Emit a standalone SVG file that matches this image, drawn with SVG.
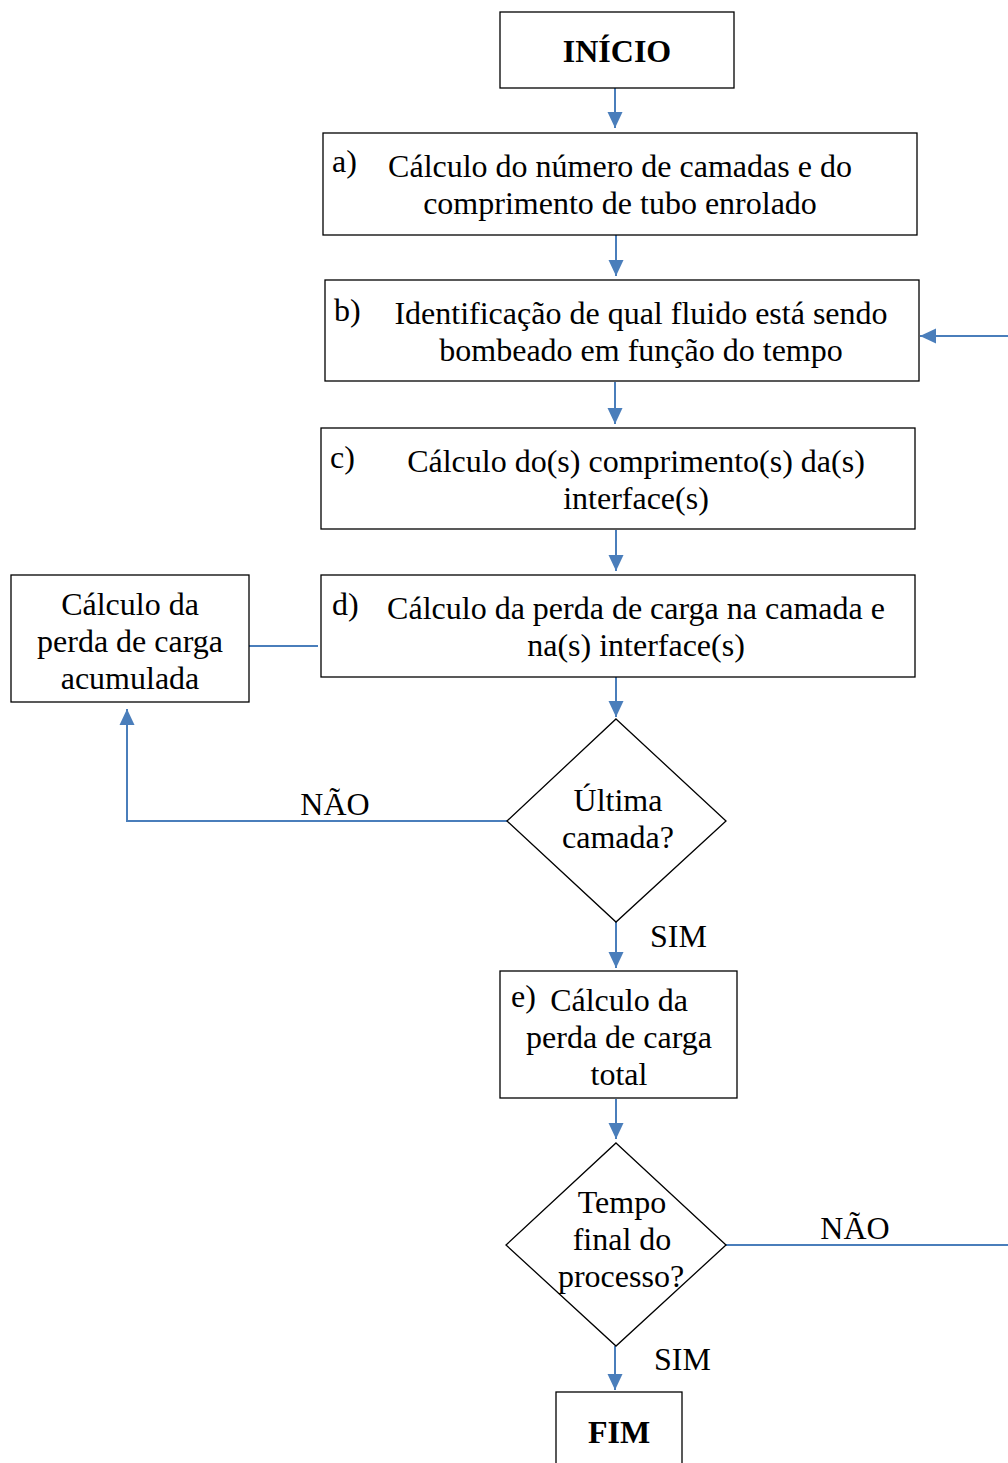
<svg xmlns="http://www.w3.org/2000/svg" width="1008" height="1463" viewBox="0 0 1008 1463">
<style>
.box{fill:#fff;stroke:#000;stroke-width:1.3}
.t{font-family:"Liberation Serif","Times New Roman",serif;font-size:32px;fill:#000}
.c{text-anchor:middle}
.b{font-weight:bold}
.con{fill:none;stroke:#4a7ebb;stroke-width:2}
</style>
<defs>
<marker id="ah" markerUnits="userSpaceOnUse" markerWidth="18" markerHeight="18" viewBox="0 0 18 18" refX="16" refY="9" orient="auto">
<path d="M0,1.5 L16,9 L0,16.5 Z" fill="#4a7ebb"/>
</marker>
</defs>
<rect width="1008" height="1463" fill="#fff"/>
<g id="connectors">
<line class="con" x1="615" y1="88" x2="615" y2="128" marker-end="url(#ah)"/>
<line class="con" x1="616" y1="235" x2="616" y2="276" marker-end="url(#ah)"/>
<line class="con" x1="1008" y1="336" x2="920" y2="336" marker-end="url(#ah)"/>
<line class="con" x1="615" y1="382" x2="615" y2="424" marker-end="url(#ah)"/>
<line class="con" x1="616" y1="530" x2="616" y2="571" marker-end="url(#ah)"/>
<line class="con" x1="249" y1="646" x2="318" y2="646"/>
<line class="con" x1="616" y1="677" x2="616" y2="717" marker-end="url(#ah)"/>
<polyline class="con" points="507,821 127,821 127,709" marker-end="url(#ah)"/>
<line class="con" x1="616" y1="922" x2="616" y2="968" marker-end="url(#ah)"/>
<line class="con" x1="616" y1="1099" x2="616" y2="1139" marker-end="url(#ah)"/>
<line class="con" x1="726" y1="1245" x2="1008" y2="1245"/>
<line class="con" x1="615" y1="1346" x2="615" y2="1390" marker-end="url(#ah)"/>
<text class="t c" x="335" y="815">NÃO</text>
<text class="t" x="650" y="947">SIM</text>
<text class="t c" x="855" y="1239">NÃO</text>
<text class="t" x="654" y="1370">SIM</text>
</g>
<g id="inicio">
<rect class="box" x="500" y="12" width="234" height="76"/>
<text class="t c b" x="617" y="62">INÍCIO</text>
</g>
<g id="a">
<rect class="box" x="323" y="133" width="594" height="102"/>
<text class="t" x="332" y="172">a)</text>
<text class="t c" x="620" y="177">Cálculo do número de camadas e do</text>
<text class="t c" x="620" y="214">comprimento de tubo enrolado</text>
</g>
<g id="b">
<rect class="box" x="325" y="280" width="594" height="101"/>
<text class="t" x="334" y="321">b)</text>
<text class="t c" x="641" y="324">Identificação de qual fluido está sendo</text>
<text class="t c" x="641" y="361">bombeado em função do tempo</text>
</g>
<g id="c">
<rect class="box" x="321" y="428" width="594" height="101"/>
<text class="t" x="330" y="468">c)</text>
<text class="t c" x="636" y="472">Cálculo do(s) comprimento(s) da(s)</text>
<text class="t c" x="636" y="509">interface(s)</text>
</g>
<g id="d">
<rect class="box" x="321" y="575" width="594" height="102"/>
<text class="t" x="332" y="615">d)</text>
<text class="t c" x="636" y="619">Cálculo da perda de carga na camada e</text>
<text class="t c" x="636" y="656">na(s) interface(s)</text>
</g>
<g id="acumulada">
<rect class="box" x="11" y="575" width="238" height="127"/>
<text class="t c" x="130" y="615">Cálculo da</text>
<text class="t c" x="130" y="652">perda de carga</text>
<text class="t c" x="130" y="689">acumulada</text>
</g>
<g id="ultima">
<polygon class="box" points="616,719 726,821 616,922 507,821"/>
<text class="t c" x="618" y="811">Última</text>
<text class="t c" x="618" y="848">camada?</text>
</g>
<g id="e">
<rect class="box" x="500" y="971" width="237" height="127"/>
<text class="t" x="511" y="1007">e)</text>
<text class="t c" x="619" y="1011">Cálculo da</text>
<text class="t c" x="619" y="1048">perda de carga</text>
<text class="t c" x="619" y="1085">total</text>
</g>
<g id="tempo">
<polygon class="box" points="616,1143 726,1245 616,1346 506,1245"/>
<text class="t c" x="622" y="1213">Tempo</text>
<text class="t c" x="622" y="1250">final do</text>
<text class="t c" x="621" y="1287">processo?</text>
</g>
<g id="fim">
<rect class="box" x="556" y="1392" width="126" height="80"/>
<text class="t c b" x="619" y="1443">FIM</text>
</g>
</svg>
